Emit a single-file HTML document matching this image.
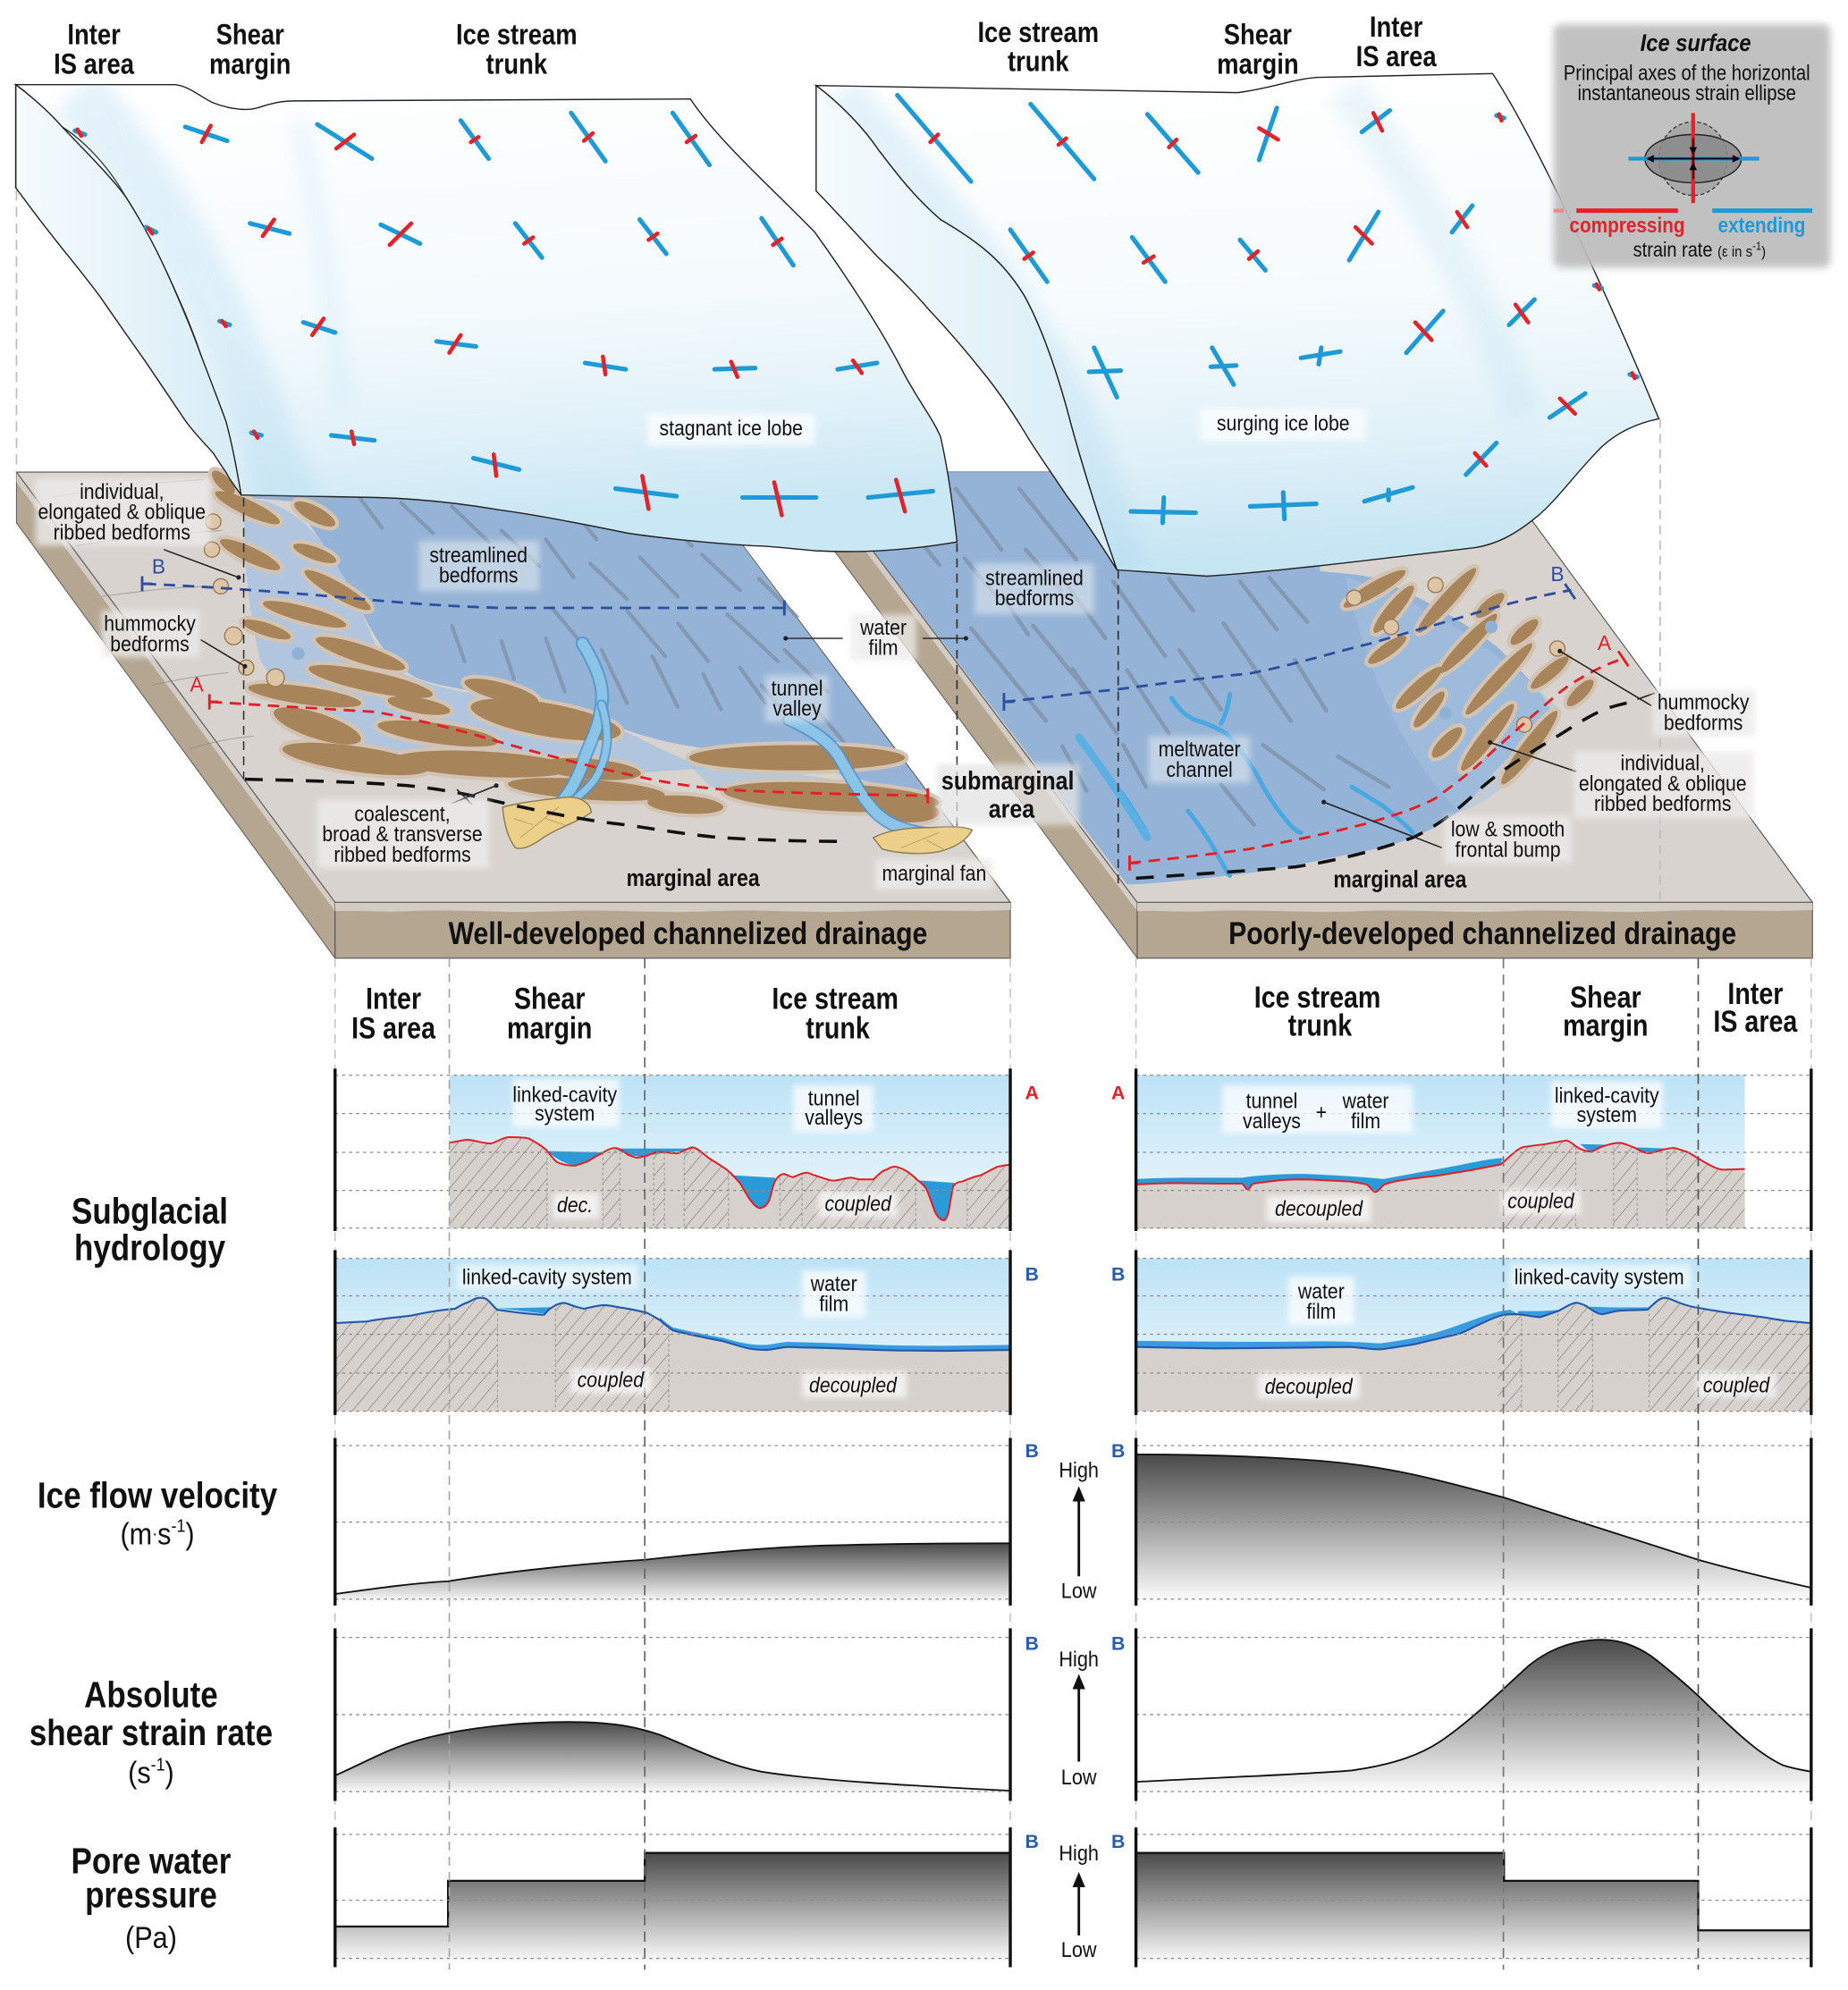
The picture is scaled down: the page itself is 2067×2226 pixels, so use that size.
<!DOCTYPE html>
<html><head><meta charset="utf-8">
<style>
html,body{margin:0;padding:0;background:#fff}
svg{display:block}
text{font-family:"Liberation Sans","DejaVu Sans",sans-serif;fill:#111;text-anchor:middle}
.h{font-size:23px;font-weight:bold}
.ch{font-size:24px;font-weight:bold}
.sl{font-size:29px;font-weight:bold}
.u{font-size:24px}
.l{font-size:17px}
.lb{font-size:19px;font-weight:bold}
.it{font-size:17px;font-style:italic}
.ab{font-size:15px;font-weight:bold}
.ft{font-size:25px;font-weight:bold}
</style></head><body>
<svg width="2067" height="2226" viewBox="0 0 1456 1568" xmlns="http://www.w3.org/2000/svg" xmlns:xlink="http://www.w3.org/1999/xlink">
<defs>
<filter id="gl" x="-30%" y="-40%" width="160%" height="180%"><feGaussianBlur stdDeviation="2.5"/></filter>
<filter id="bl" x="-50%" y="-50%" width="200%" height="200%"><feGaussianBlur stdDeviation="7"/></filter>
<filter id="bl3" x="-20%" y="-20%" width="140%" height="140%"><feGaussianBlur stdDeviation="3"/></filter>
<linearGradient id="gIceL" x1="0" y1="0" x2="0.15" y2="1"><stop offset="0" stop-color="#ffffff"/><stop offset="0.55" stop-color="#f4fafd"/><stop offset="0.8" stop-color="#e1f1f9"/><stop offset="1" stop-color="#c9e7f4"/></linearGradient>
<linearGradient id="gIceR" x1="0" y1="0" x2="0.1" y2="1"><stop offset="0" stop-color="#ffffff"/><stop offset="0.5" stop-color="#f6fbfd"/><stop offset="0.8" stop-color="#dff0f8"/><stop offset="1" stop-color="#c6e5f3"/></linearGradient>
<linearGradient id="gSide" x1="0" y1="0" x2="1" y2="0"><stop offset="0" stop-color="#f6fbfd"/><stop offset="1" stop-color="#d6ecf6"/></linearGradient>
<linearGradient id="sky" x1="0" y1="0" x2="0" y2="1"><stop offset="0" stop-color="#bde2f6"/><stop offset="1" stop-color="#f0f9fd"/></linearGradient>
<linearGradient id="fg" x1="0" y1="0" x2="0" y2="1"><stop offset="0" stop-color="#4a4a4a"/><stop offset="1" stop-color="#ffffff"/></linearGradient>
<pattern id="hat" width="9" height="9" patternUnits="userSpaceOnUse" patternTransform="rotate(40)"><line x1="0" y1="0" x2="0" y2="9" stroke="#7a7a7a" stroke-width="0.9"/></pattern>
<clipPath id="cIceL"><path d="M12.4,66.7 L138,66.7 C150,68 160,78 168,81 C178,85 190,87 198,86 C205,85 208,83 213,82 C220,80 226,79.5 232,79.5 L544,78 C565,110 610,150 642,183 C665,215 695,260 712,294 C725,318 735,330 741,344 C747,370 751,400 754,427 C720,433 680,436 643,434 C620,432 605,430 593,430 C560,428 520,424 494,420 C460,413 425,406 395,402 C360,396 330,393 297,392 L190,390 Z"/></clipPath>
<clipPath id="cIceR"><path d="M643,67.4 L975,73 C1000,70 1020,62 1038,61 L1176,58 C1210,110 1270,240 1307,330 C1287,334 1273,342 1262,352 C1242,372 1226,395 1211,407 C1194,421 1178,430 1158,432 C1090,440 1010,450 951,454 L880,449 Z"/></clipPath>
<path id="pA1" d="M354,900.5 C362,899 366,898 369,898 C376,899 381,901 387,901 C393,899 397,896 401,896 C407,896 412,896 416.5,897 C422,900 427,903 430.6,906.3 C434,910 436,914 439,915.7 C444,918 449,918.5 453,918.5 C458,917 461,916 464,914.6 C468,912 471,910 474.4,908.7 C478,906 481,904.5 485,904.5 C489,905 492,908 495,910 C498,911 500,912 502,912.2 C505,912 507,911 509,911 C513,909 516,907.5 520,907.5 C526,908 530,909 534,908.7 C539,907 543,904 546,904 C550,905 554,909 558,912.2 C564,916 569,919 572.5,921.6 C577,925 580,929 583,932.2 C586,937 588,941 590,944 C593,948 596,952 599,952 C602,951 604,950 606,946 C608,940 609,933 611,930 C613,927 615,925 618,925 C621,926 623,927.5 625,927.5 C629,926 632,924 635.5,924 C638,924 640,926 642.5,926.3 C648,928 652,930 656.6,930.3 C662,930 666,928 670.6,928 C673,928 675,929.3 677.6,929.3 C682,929.3 685,929.3 688,929.3 C692,926 695,922 698.6,921.6 C701,920 703,919 705.6,919.3 C709,920 712,921 716,924 C719,926 721,928 723,930 C726,932 728,934 730,937 C733,944 735,951 737,955.6 C739,959 741,961.5 744,961.5 C746,960 747,957 747.7,953 C749,946 750,939 751,934.5 C753,932 755,931 758,931 C763,929 767,927 772,926.3 C777,924 782,921 786,919.3 C790,918.5 793,918 796,917.6 L796,968 L354,968 Z"/>
<path id="pB1" d="M264,1042.5 C275,1042 282,1041.5 288.6,1041.3 C300,1039 312,1038 323.7,1036.7 C336,1034 348,1032 358.7,1031.2 C362,1029 366,1027 369,1026 C373,1024 375,1022.6 378,1022.6 C381,1022.6 383,1023 385,1025 C388,1028 390,1031 392,1032 C402,1033.5 412,1035 421.8,1035.5 C425,1036 427,1036 428.8,1035.9 C431,1033 433,1031 435.8,1029.6 C439,1027.5 442,1026.6 444.6,1026.6 C447,1027 449,1028 451.6,1028.9 C455,1030 458,1031 460.3,1031.2 C466,1030 471,1028.5 476,1028.4 C479,1028.5 482,1029 485,1029.6 C490,1030.5 494,1031 499,1032 C503,1033 506,1033.5 509.4,1034.3 C513,1036 516,1038 520,1040.2 C523,1043 527,1046 530.4,1048.4 C537,1050 545,1052 551.4,1053.1 C557,1054.5 563,1055.5 569,1056.6 C576,1058.5 583,1061 590,1062.5 C595,1063.5 600,1063.7 604,1063.7 C610,1063 616,1061.5 621.5,1061.3 C627,1061.5 633,1061.8 639,1061.8 C650,1062 662,1062.5 674,1063 C686,1063.5 698,1064 709,1064.1 C720,1064.3 732,1064.4 744,1064.4 C762,1064.2 780,1063.9 796,1063.7 L796,1112 L264,1112 Z"/>
<path id="pA2" d="M895.3,933.3 C905,932.8 914,932.4 922.6,932.2 C934,932.3 946,932.5 957.7,932.6 C965,932.6 972,932.6 978.7,932.6 C980.5,934 981.5,937.3 983,937.3 C984.5,937.3 985.5,933.5 987.5,932.6 C995,931.5 1003,930.5 1010,929.8 C1016,929.5 1022,929.3 1028,929.3 C1040,929.8 1051,930.3 1063,931 C1068,931.7 1073,932.3 1076.8,933.3 C1079.5,935 1081.5,939.2 1083.8,939.2 C1086,939.2 1088,935 1090.8,933.3 C1095,931.8 1100,930.5 1105,929.8 C1114,928.5 1124,927.3 1133,926.3 C1142,924.8 1151,923.2 1161,921.6 C1168,920.3 1175,918.9 1182,917.6 C1186,915 1189,911 1192.4,908.7 C1195,906.5 1197,905 1199.5,904 C1205,903 1211,902.3 1217,901.6 C1223,900.5 1229,899.5 1234.5,898.6 C1238,899.5 1241,903.5 1245,905.2 C1248,906.5 1251,907.5 1253.8,907.5 C1257,906.5 1260,903.8 1264.3,902.8 C1268,901.5 1272,900.5 1276.6,900.5 C1280,901 1283,902.5 1287,904 C1291,905.8 1295,908.7 1299.3,908.7 C1305,908 1312,904.5 1318.6,904.5 C1322,905 1325,906.5 1329,907.5 C1334,910 1338,913 1343,915.7 C1348,918.5 1352,921 1357,921.6 C1363,921.6 1369,921.2 1374.7,921.1 L1374.7,968 L895.3,968 Z"/>
<path id="pB2" d="M895.3,1061.3 C915,1061.7 937,1062.2 957.7,1062.5 C981,1062.3 1005,1062 1027.8,1061.8 C1040,1061.6 1051,1061.4 1062.8,1061.3 C1071,1061.6 1080,1063.2 1087.3,1063.2 C1097,1062 1106,1060.5 1115.4,1059 C1127,1056 1139,1053.5 1150.4,1050.7 C1157,1048 1162,1045 1168,1042.5 C1174,1039.5 1180,1037 1185.4,1035.9 C1189,1035.6 1193,1035.5 1196,1035.5 C1202,1036 1208,1037.8 1213.5,1037.8 C1218,1036.5 1223,1034.5 1227.5,1033.1 C1232,1031 1237,1027 1241.5,1026.5 C1244,1026.5 1246,1027.3 1248.5,1028.4 C1253,1031 1257,1035 1262.5,1035.5 C1267,1035 1271,1033 1276.6,1032.7 C1283,1032.4 1290,1032.2 1297.6,1032 C1302,1029 1306,1023 1311.6,1022.6 C1315,1022.7 1318,1024.5 1322,1026.1 C1328,1028.5 1334,1030 1339.6,1030.8 C1347,1032 1354,1033.3 1360.6,1034.3 C1371,1035.5 1382,1037 1392,1038.3 C1397,1039.2 1402,1040 1406,1040.6 C1413,1041.3 1420,1042 1427,1042.5 L1427,1112 L895.3,1112 Z"/>
<clipPath id="cA1"><use xlink:href="#pA1"/></clipPath>
<clipPath id="cB1"><use xlink:href="#pB1"/></clipPath>
<clipPath id="cA2"><use xlink:href="#pA2"/></clipPath>
<clipPath id="cB2"><use xlink:href="#pB2"/></clipPath>
<g id="bfL">
<ellipse cx="176" cy="380" rx="12" ry="5" transform="rotate(45 176 380)"/>
<ellipse cx="195" cy="400" rx="28" ry="6" transform="rotate(25 195 400)"/>
<ellipse cx="248" cy="405" rx="18" ry="6" transform="rotate(28 248 405)"/>
<ellipse cx="197" cy="437" rx="26" ry="6" transform="rotate(25 197 437)"/>
<ellipse cx="248" cy="436" rx="18" ry="5" transform="rotate(20 248 436)"/>
<ellipse cx="266" cy="465" rx="30" ry="6" transform="rotate(30 266 465)"/>
<ellipse cx="240" cy="484" rx="34" ry="6" transform="rotate(15 240 484)"/>
<ellipse cx="210" cy="496" rx="20" ry="5" transform="rotate(18 210 496)"/>
<ellipse cx="284" cy="515" rx="37" ry="7" transform="rotate(18 284 515)"/>
<ellipse cx="292" cy="537" rx="50" ry="8" transform="rotate(12 292 537)"/>
<ellipse cx="240" cy="548" rx="45" ry="7" transform="rotate(8 240 548)"/>
<ellipse cx="250" cy="572" rx="36" ry="10" transform="rotate(18 250 572)"/>
<ellipse cx="345" cy="578" rx="48" ry="8" transform="rotate(8 345 578)"/>
<ellipse cx="430" cy="567" rx="60" ry="13" transform="rotate(10 430 567)"/>
<ellipse cx="280" cy="598" rx="58" ry="10" transform="rotate(8 280 598)"/>
<ellipse cx="380" cy="602" rx="70" ry="10" transform="rotate(3 380 602)"/>
<ellipse cx="465" cy="606" rx="40" ry="8" transform="rotate(5 465 606)"/>
<ellipse cx="462" cy="622" rx="62" ry="8" transform="rotate(4 462 622)"/>
<ellipse cx="628" cy="597" rx="85" ry="10"/>
<ellipse cx="655" cy="628" rx="85" ry="11" transform="rotate(3 655 628)"/>
<ellipse cx="540" cy="634" rx="30" ry="7" transform="rotate(4 540 634)"/>
<ellipse cx="330" cy="556" rx="25" ry="6" transform="rotate(10 330 556)"/>
<ellipse cx="395" cy="545" rx="30" ry="7" transform="rotate(15 395 545)"/>
<ellipse cx="718" cy="640" rx="22" ry="8"/>
</g>
<g id="bfR">
<ellipse cx="1083" cy="464" rx="28" ry="5.5" transform="rotate(-30 1083 464)"/>
<ellipse cx="1098" cy="480" rx="24" ry="5.5" transform="rotate(-50 1098 480)"/>
<ellipse cx="1140" cy="473" rx="34" ry="5.5" transform="rotate(-48 1140 473)"/>
<ellipse cx="1174" cy="477" rx="14" ry="5" transform="rotate(-40 1174 477)"/>
<ellipse cx="1093" cy="512" rx="18" ry="5" transform="rotate(-35 1093 512)"/>
<ellipse cx="1157" cy="507" rx="32" ry="5.5" transform="rotate(-46 1157 507)"/>
<ellipse cx="1201" cy="498" rx="14" ry="5" transform="rotate(-42 1201 498)"/>
<ellipse cx="1118" cy="542" rx="24" ry="5.5" transform="rotate(-42 1118 542)"/>
<ellipse cx="1181" cy="535" rx="38" ry="5.5" transform="rotate(-47 1181 535)"/>
<ellipse cx="1221" cy="530" rx="19" ry="5" transform="rotate(-40 1221 530)"/>
<ellipse cx="1126" cy="559" rx="18" ry="5" transform="rotate(-50 1126 559)"/>
<ellipse cx="1245" cy="546" rx="14" ry="5" transform="rotate(-45 1245 546)"/>
<ellipse cx="1140" cy="585" rx="16" ry="5.5" transform="rotate(-45 1140 585)"/>
<ellipse cx="1172" cy="581" rx="33" ry="6" transform="rotate(-52 1172 581)"/>
<ellipse cx="1205" cy="589" rx="36" ry="6" transform="rotate(-53 1205 589)"/>
</g>
</defs>

<!-- ============ RIGHT SLAB ============ -->
<polygon points="641,372 896,711 896,755 641,412" fill="#b5a691" stroke="#666" stroke-width="0.8"/>
<polygon points="641,372 896,711 896,718 641,380" fill="#d3ccc4"/>
<rect x="896" y="711" width="532" height="44" fill="#b5a691" stroke="#555" stroke-width="0.8"/>
<path d="M896,711 L1428,711 L1428,717 C1390,719 1350,716 1310,718 C1270,720 1230,716 1190,718 C1150,720 1110,716 1070,718 C1030,720 990,716 950,718 C925,719 910,717 896,718 Z" fill="#d3ccc4"/>
<polygon points="641,372 1179,372 1428,711 896,711" fill="#d9d3cf" stroke="#555" stroke-width="0.8"/>
<path d="M641,372 L1040,372 L1040,450 C1060,452 1080,453 1090,458 C1130,475 1160,495 1180,510 C1200,530 1215,545 1222,560 C1218,572 1210,580 1205,582 C1190,595 1180,605 1175,611 C1165,622 1160,630 1153,636 C1140,648 1125,655 1113,660 C1095,667 1075,671 1058,674 C1030,680 1005,685 984,688 C950,692 915,696 888,697 Z" fill="#95b3d6"/>
<path d="M1060,455 C1120,470 1190,520 1230,560 C1210,600 1180,630 1150,640 C1110,600 1080,540 1060,455 Z" fill="#a9c3e0" opacity="0.5"/>
<g stroke="#7d90a6" stroke-width="3.2" stroke-linecap="round" opacity="0.75">
<path d="M753,385L789,433 M803,385L848,441 M808,433L836,465 M765,495L824,568 M814,493L864,554 M838,457L871,503 M845,527L880,578 M837,588L856,623 M877,458L918,517 M921,456L940,481 M977,458L1006,496 M888,528L921,578 M929,512L962,559 M964,491L1017,568 M995,587L1043,622 M1054,596L1094,620 M962,618L988,650 M885,587L903,620 M1000,455L1030,490 M760,440L785,470 M720,420L740,445 M790,470L810,500 M1020,520L1045,560"/>
</g>
<g fill="none" stroke="#4aa8e0" stroke-width="3.5" stroke-linecap="round">
<path d="M923,550 C930,560 935,566 947,569 C955,572 962,575 966,578 C975,588 984,600 990,610 C995,620 1002,632 1010,642 C1016,650 1022,656 1025,656"/>
<path d="M969,547 C968,556 965,565 962,570"/>
<path d="M936,639 C945,650 955,665 960,675 C964,682 967,688 969,690"/>
<path d="M873,611 C880,620 888,630 892,637 C897,645 900,650 903,655"/>
<path d="M1065,620 C1075,626 1085,632 1091,636 C1100,644 1108,650 1113,656"/>
<path d="M850,581 C865,600 885,630 904,660" stroke-width="6" stroke="#5ab0e2"/>
</g>
<use xlink:href="#bfR" fill="#d2c3b2" stroke="#d2c3b2" stroke-width="6"/>
<use xlink:href="#bfR" fill="#a8845b"/>
<g fill="#dcc6a6" stroke="#9a7b55" stroke-width="1">
<circle cx="1067" cy="471" r="6"/><circle cx="1131" cy="461" r="6"/><circle cx="1096" cy="494" r="6"/><circle cx="1227" cy="511" r="6"/><circle cx="1201" cy="571" r="6"/>
</g>
<circle cx="1175" cy="494" r="5" fill="#8fb1d4"/><circle cx="1139" cy="562" r="5" fill="#8fb1d4"/>
<!-- right dashed lines -->
<path d="M791,553 C830,549 850,546 877,543.6 C920,538 950,534 984,530.7 C1020,524 1050,514 1080,507 C1110,498 1140,490 1168,481.4 C1190,475 1215,469 1238,465" fill="none" stroke="#2d4f9e" stroke-width="2" stroke-dasharray="9 6"/>
<path d="M791,546 L791,560 M791,553 L799,553 M1233,460 L1241,472" stroke="#2d4f9e" stroke-width="2"/>
<path d="M890,680 C920,677 955,673 984,669 C1020,662 1050,656 1080,648 C1100,642 1118,636 1131,629 C1150,615 1163,605 1176,592 C1195,575 1212,560 1227,547 C1237,539 1247,533 1257,528 C1265,524 1272,521 1279,519" fill="none" stroke="#e31e25" stroke-width="2" stroke-dasharray="9 6"/>
<path d="M890,674 L890,686 M890,680 L897,680 M1275,513 L1283,525" stroke="#e31e25" stroke-width="2"/>
<path d="M895,692 C940,689 985,686 1021,683 C1055,678 1088,669 1113,660 C1135,650 1152,635 1168,620 C1188,603 1206,593 1224,582 C1240,572 1252,564 1264,559 C1272,556 1278,555 1285,553" fill="none" stroke="#111" stroke-width="2.5" stroke-dasharray="14 10"/>
<line x1="881" y1="449" x2="881" y2="700" stroke="#333" stroke-width="1.2" stroke-dasharray="7 5"/>
<line x1="1308" y1="330" x2="1308" y2="711" stroke="#bdbdbd" stroke-width="1.2" stroke-dasharray="7 5"/>
<g stroke="#222" stroke-width="1.1" fill="none">
<path d="M1229,513 L1301,556"/><path d="M1290,551 L1304,546"/>
<path d="M1174,585 L1242,608"/>
<path d="M1043,632 L1136,668"/>
</g>
<circle cx="1229" cy="513" r="1.8" fill="#222"/><circle cx="1174" cy="585" r="1.8" fill="#222"/><circle cx="1043" cy="632" r="1.8" fill="#222"/>

<!-- ============ RIGHT ICE ============ -->
<path d="M643,67.4 L975,73 C1000,70 1020,62 1038,61 L1176,58 C1210,110 1270,240 1307,330 C1287,334 1273,342 1262,352 C1242,372 1226,395 1211,407 C1194,421 1178,430 1158,432 C1090,440 1010,450 951,454 L880,449 C868,415 855,375 844,335 C835,300 822,260 807,233 C790,205 770,190 741,173 C720,155 705,135 692,118 C680,100 660,80 643,67.4 Z" fill="url(#gIceR)" stroke="#222" stroke-width="1"/>
<g clip-path="url(#cIceR)" opacity="0.3">
<path d="M660,75 C720,140 790,220 830,300 C860,360 870,410 885,450" stroke="#a9d6ee" stroke-width="40" fill="none" filter="url(#bl)"/>
<path d="M1060,70 C1110,140 1170,230 1200,330" stroke="#bfe0f1" stroke-width="30" fill="none" filter="url(#bl)"/>
</g>
<path d="M643,67.4 C660,80 680,100 692,118 C705,135 720,155 741,173 C770,190 790,205 807,233 C822,260 835,300 844,335 C855,375 868,415 880,449 C868,430 855,410 840,390 C828,372 818,358 810,345 C798,325 788,310 775,294 C760,275 745,258 731,243 C718,228 705,215 692,203 C678,188 660,168 643,150.5 Z" fill="url(#gSide)" stroke="#222" stroke-width="1"/>
<g stroke="#1e9ad6" stroke-width="3.6" stroke-linecap="round" fill="none">
<path d="M707,75L765,143 M812,82L862,141 M904,90L944,136 M1006,85L992,126 M1073,104L1095,87 M1179,91L1185,93 M796,181L825,222 M892,187L918,222 M977,189L997,213 M1063,205L1086,167 M1144,183L1160,162 M1256,225L1262,227 M862,274L880,313 M858,293L883,292 M955,274L972,303 M954,289L974,288 M1025,282L1056,277 M1041,274L1039,287 M1108,278L1137,245 M1189,256L1209,236 M1284,295L1290,297 M891,403L942,404 M917,392L916,412 M985,399L1037,397 M1011,388L1012,409 M1075,395L1113,384 M1094,386L1094,394 M1155,374L1179,349 M1221,329L1249,310"/>
</g>
<g stroke="#e3232b" stroke-width="3.2" stroke-linecap="round" fill="none">
<path d="M733,112L739,106 M834,114L840,109 M921,116L927,110 M992,101L1007,110 M1082,89L1089,103 M1181,90L1183,95 M807,204L814,199 M901,207L909,202 M984,204L991,198 M1068,179L1081,192 M1148,167L1156,179 M1258,224L1260,228 M1115,254L1128,268 M1194,240L1204,254 M1286,294L1288,298 M1162,357L1171,367 M1229,314L1241,326"/>
</g>
<rect x="946" y="322" width="130" height="25" fill="#fff" opacity="0.7" filter="url(#gl)"/>
<text class="l" transform="translate(1011 339) scale(.88 1)">surging ice lobe</text>

<!-- ============ LEFT SLAB ============ -->
<polygon points="13,372 264,711 264,755 13,412" fill="#b5a691" stroke="#666" stroke-width="0.8"/>
<polygon points="13,372 264,711 264,718 13,380" fill="#d3ccc4"/>
<rect x="264" y="711" width="532" height="44" fill="#b5a691" stroke="#555" stroke-width="0.8"/>
<path d="M264,711 L796,711 L796,717 C760,719 720,716 680,718 C640,720 600,716 560,718 C520,720 480,716 440,718 C400,720 360,716 320,718 C300,719 280,717 264,718 Z" fill="#d3ccc4"/>
<polygon points="13,372 542,372 796,711 264,711" fill="#d9d3cf" stroke="#555" stroke-width="0.8"/>
<path d="M192,380 L548,380 L733,628 C700,622 650,605 600,595 C550,590 510,585 470,565 C420,550 360,545 330,535 C300,520 290,490 275,462 C262,440 250,420 230,395 L192,392 Z" fill="#95b3d6"/>
<path d="M192,392 C230,395 250,420 262,440 C275,462 290,490 300,520 C320,535 350,545 400,550 C440,556 470,565 500,580 C520,590 540,600 560,605 L420,615 C380,610 330,600 290,590 C250,575 220,545 205,520 C195,480 192,440 192,392 Z" fill="#a9c3e0" opacity="0.85"/>
<path d="M540,600 C600,605 650,612 735,628 L740,640 C680,640 620,630 560,620 Z" fill="#a9c3e0" opacity="0.7"/>
<g stroke="#7d90a6" stroke-width="3" stroke-linecap="round" opacity="0.75">
<path d="M284,393L301,416 M316,396L341,420 M356,399L385,427 M395,418L425,446 M430,425L452,455 M465,444L494,472 M504,439L534,470 M553,437L583,465 M598,456L628,486 M435,479L455,503 M494,481L524,517 M534,491L558,521 M573,484L613,521 M618,512L652,545 M583,526L603,554 M395,505L405,535 M430,503L445,545 M356,493L366,521 M474,512L494,554 M514,517L534,557 M554,531L568,559 M600,540L625,570 M640,555L665,585 M450,400L470,425 M520,405L545,430"/>
</g>
<g stroke="#8a8a8a" stroke-width="0.7" fill="none" opacity="0.7">
<path d="M40,392 C80,385 120,380 160,378 M60,430 C100,424 140,420 175,418 M80,470 C110,466 140,462 170,462 M120,540 C140,535 160,532 180,530 M150,590 C165,585 180,582 200,580"/>
</g>
<use xlink:href="#bfL" fill="#d2c3b2" stroke="#d2c3b2" stroke-width="6"/>
<use xlink:href="#bfL" fill="#a8845b"/>
<g fill="#dcc6a6" stroke="#9a7b55" stroke-width="1">
<circle cx="168" cy="411" r="6"/><circle cx="167" cy="433" r="6"/><circle cx="174" cy="462" r="6"/><circle cx="184" cy="501" r="7"/><circle cx="194" cy="526" r="6"/><circle cx="217" cy="534" r="7"/>
</g>
<circle cx="235" cy="515" r="5" fill="#8fb1d4"/>
<g fill="none" stroke-linecap="round">
<path d="M459,507 C470,525 476,540 474,555 C472,575 462,590 458,605 C452,620 445,630 437,638" stroke="#4f95c8" stroke-width="11" opacity="0.8"/>
<path d="M459,507 C470,525 476,540 474,555 C472,575 462,590 458,605 C452,620 445,630 437,638" stroke="#8cc4e8" stroke-width="8"/>
<path d="M474,555 C482,580 478,600 468,615 C460,625 450,632 440,640" stroke="#4f95c8" stroke-width="8" opacity="0.8"/>
<path d="M474,555 C482,580 478,600 468,615 C460,625 450,632 440,640" stroke="#8cc4e8" stroke-width="5"/>
<path d="M622,567 C640,575 655,585 662,598 C672,615 680,630 690,640 C700,650 715,655 730,657" stroke="#4f95c8" stroke-width="11" opacity="0.8"/>
<path d="M622,567 C640,575 655,585 662,598 C672,615 680,630 690,640 C700,650 715,655 730,657" stroke="#8cc4e8" stroke-width="8"/>
</g>
<path d="M396,636 C410,632 430,630 448,628 C458,628 465,633 466,640 C455,648 440,652 428,660 C420,666 412,670 406,668 C400,660 397,648 396,636 Z" fill="#ecd08a" stroke="#8a7a50" stroke-width="1"/>
<path d="M688,660 C700,654 715,652 735,652 C748,651 760,651 766,654 C762,662 752,668 740,671 C725,674 705,672 695,669 Z" fill="#ecd08a" stroke="#8a7a50" stroke-width="1"/>
<g stroke="#b09a60" stroke-width="0.6" fill="none"><path d="M410,660 L440,636 M420,650 L405,645 M430,645 L445,650 M710,668 L740,656 M730,662 L745,670"/></g>
<path d="M114,460 C180,463 240,468 296,473 C330,476 360,478 395,479 C470,479 550,479 618,479" fill="none" stroke="#2d4f9e" stroke-width="2" stroke-dasharray="9 6"/>
<path d="M112,454 L112,466 M112,460 L120,460 M618,473 L618,485" stroke="#2d4f9e" stroke-width="2"/>
<path d="M166,553 C210,556 250,558 296,561 C330,567 365,576 395,585 C430,595 465,604 494,610 C520,616 545,620 568,622 C620,625 680,626 731,627" fill="none" stroke="#e31e25" stroke-width="2" stroke-dasharray="9 6"/>
<path d="M165,547 L165,559 M165,553 L172,553 M731,621 L731,633" stroke="#e31e25" stroke-width="2"/>
<path d="M193,614 C240,615 280,616 321,619 C340,621 360,624 376,628 C415,637 455,646 494,650 C520,654 545,658 568,660 C600,662 635,663 667,663" fill="none" stroke="#111" stroke-width="2.5" stroke-dasharray="14 10"/>
<line x1="192" y1="392" x2="192" y2="614" stroke="#333" stroke-width="1.1" stroke-dasharray="7 5"/>
<line x1="13" y1="150" x2="13" y2="372" stroke="#bdbdbd" stroke-width="1.2" stroke-dasharray="8 5"/>
<g stroke="#222" stroke-width="1.1" fill="none">
<path d="M129,433 L188,455"/><path d="M158,504 L193,525"/><path d="M356,633 L391,619"/><path d="M360,622 L372,634"/>
</g>
<circle cx="188" cy="455" r="1.8" fill="#222"/><circle cx="193" cy="525" r="1.8" fill="#222"/><circle cx="391" cy="619" r="1.8" fill="#222"/>

<!-- ============ LEFT ICE ============ -->
<path d="M12.4,66.7 L138,66.7 C150,68 160,78 168,81 C178,85 190,87 198,86 C205,85 208,83 213,82 C220,80 226,79.5 232,79.5 L544,78 C565,110 610,150 642,183 C665,215 695,260 712,294 C725,318 735,330 741,344 C747,370 751,400 754,427 C720,433 680,436 643,434 C620,432 605,430 593,430 C560,428 520,424 494,420 C460,413 425,406 395,402 C360,396 330,393 297,392 L190,390 C184,370 181,350 178,332 C170,310 163,295 158,279 C150,255 142,238 133,218 C122,195 110,172 99,155 C85,130 65,110 49,100 C35,85 20,72 12.4,66.7 Z" fill="url(#gIceL)" stroke="#222" stroke-width="1"/>
<g clip-path="url(#cIceL)" opacity="0.3">
<path d="M60,72 C120,140 170,230 200,320 C215,360 225,390 235,410" stroke="#a9d6ee" stroke-width="46" fill="none" filter="url(#bl)"/>
<path d="M235,95 C250,160 262,240 270,320" stroke="#c5e4f3" stroke-width="16" fill="none" filter="url(#bl)"/>
</g>
<path d="M12.4,66.7 C30,80 42,92 49,100 C70,122 88,140 99,155 C115,180 125,200 133,218 C145,245 152,262 158,279 C166,300 173,318 178,332 C183,350 187,372 190,390 C186,384 182,380 178,372 C173,365 170,360 168,357 C160,348 150,338 143,327 C133,312 122,296 114,284 C102,267 90,250 79,234 C65,215 52,200 39,183 C30,172 20,158 12.4,148 Z" fill="url(#gSide)" stroke="#222" stroke-width="1"/>
<line x1="12.4" y1="66.7" x2="12.4" y2="148" stroke="#222" stroke-width="1"/>
<g stroke="#1e9ad6" stroke-width="3.6" stroke-linecap="round" fill="none">
<path d="M59,103L67,106 M146,100L179,111 M250,98L293,125 M363,95L385,125 M450,89L477,127 M530,89L559,130 M115,179L123,183 M197,176L228,184 M300,177L331,192 M406,176L427,203 M504,173L525,200 M600,172L625,209 M173,253L181,256 M239,254L264,262 M344,269L375,273 M461,286L493,291 M563,291L595,290 M660,291L691,286 M198,341L206,343 M261,343L295,347 M373,361L409,370 M485,385L533,391 M585,392L643,392 M684,392L735,387"/>
</g>
<g stroke="#e3232b" stroke-width="3.2" stroke-linecap="round" fill="none">
<path d="M61,102L64,107 M159,112L166,99 M265,117L279,106 M371,112L377,108 M460,111L467,105 M541,112L548,107 M117,180L120,184 M207,186L216,173 M307,193L324,176 M413,192L420,187 M511,189L518,184 M609,193L616,188 M175,253L178,257 M246,264L255,251 M354,278L363,264 M475,281L477,295 M576,285L581,297 M672,284L679,294 M200,340L203,345 M277,340L279,350 M389,358L391,375 M506,375L511,401 M610,380L616,406 M706,378L713,403"/>
</g>
<rect x="510" y="326" width="132" height="25" fill="#fff" opacity="0.7" filter="url(#gl)"/>
<text class="l" transform="translate(576 343) scale(.88 1)">stagnant ice lobe</text>

<line x1="754" y1="428" x2="754" y2="652" stroke="#333" stroke-width="1.2" stroke-dasharray="7 5"/>

<!-- ============ BLOCK LABELS ============ -->
<g>
<rect x="330" y="426" width="95" height="40" fill="#dfe7f0" opacity="0.6" filter="url(#gl)"/>
<text class="l" transform="translate(377 443) scale(.88 1)">streamlined</text>
<text class="l" transform="translate(377 459) scale(.88 1)">bedforms</text>
<rect x="768" y="444" width="94" height="40" fill="#dfe7f0" opacity="0.6" filter="url(#gl)"/>
<text class="l" transform="translate(815 461) scale(.88 1)">streamlined</text>
<text class="l" transform="translate(815 477) scale(.88 1)">bedforms</text>
<line x1="619" y1="503" x2="664" y2="503" stroke="#222" stroke-width="1"/><line x1="727" y1="503" x2="761" y2="503" stroke="#222" stroke-width="1"/>
<circle cx="619" cy="503" r="1.8" fill="#222"/><circle cx="761" cy="503" r="1.8" fill="#222"/>
<rect x="670" y="484" width="52" height="37" fill="#ececec" opacity="0.75" filter="url(#gl)"/>
<text class="l" transform="translate(696 500) scale(.88 1)">water</text>
<text class="l" transform="translate(696 516) scale(.88 1)">film</text>
<rect x="603" y="532" width="50" height="37" fill="#dfe7f0" opacity="0.6" filter="url(#gl)"/>
<text class="l" transform="translate(628 548) scale(.88 1)">tunnel</text>
<text class="l" transform="translate(628 564) scale(.88 1)">valley</text>
<rect x="28" y="377" width="137" height="53" fill="#ecebea" opacity="0.8" filter="url(#gl)"/>
<text class="l" transform="translate(96 393) scale(.88 1)">individual,</text>
<text class="l" transform="translate(96 409) scale(.88 1)">elongated &amp; oblique</text>
<text class="l" transform="translate(96 425) scale(.88 1)">ribbed bedforms</text>
<rect x="80" y="481" width="77" height="37" fill="#ecebea" opacity="0.8" filter="url(#gl)"/>
<text class="l" transform="translate(118 497) scale(.88 1)">hummocky</text>
<text class="l" transform="translate(118 513) scale(.88 1)">bedforms</text>
<rect x="250" y="630" width="135" height="54" fill="#ecebea" opacity="0.85" filter="url(#gl)"/>
<text class="l" transform="translate(317 647) scale(.88 1)">coalescent,</text>
<text class="l" transform="translate(317 663) scale(.88 1)">broad &amp; transverse</text>
<text class="l" transform="translate(317 679) scale(.88 1)">ribbed bedforms</text>
<text class="lb" transform="translate(546 698) scale(.85 1)">marginal area</text>
<rect x="690" y="677" width="92" height="24" fill="#ecebea" opacity="0.85" filter="url(#gl)"/>
<text class="l" transform="translate(736 694) scale(.88 1)">marginal fan</text>
<rect x="738" y="602" width="112" height="48" fill="#e4e4e4" opacity="0.75" filter="url(#gl)"/>
<text class="lb" transform="translate(794 622) scale(.88 1)" style="font-size:20px">submarginal</text>
<text class="lb" transform="translate(797 644) scale(.88 1)" style="font-size:20px">area</text>
<rect x="905" y="580" width="80" height="37" fill="#dfe7f0" opacity="0.6" filter="url(#gl)"/>
<text class="l" transform="translate(945 596) scale(.88 1)">meltwater</text>
<text class="l" transform="translate(945 612) scale(.88 1)">channel</text>
<rect x="1302" y="543" width="81" height="37" fill="#ecebea" opacity="0.8" filter="url(#gl)"/>
<text class="l" transform="translate(1342 559) scale(.88 1)">hummocky</text>
<text class="l" transform="translate(1342 575) scale(.88 1)">bedforms</text>
<rect x="1240" y="592" width="142" height="53" fill="#ecebea" opacity="0.8" filter="url(#gl)"/>
<text class="l" transform="translate(1310 607) scale(.88 1)">individual,</text>
<text class="l" transform="translate(1310 623) scale(.88 1)">elongated &amp; oblique</text>
<text class="l" transform="translate(1310 639) scale(.88 1)">ribbed bedforms</text>
<rect x="1138" y="643" width="100" height="37" fill="#ecebea" opacity="0.8" filter="url(#gl)"/>
<text class="l" transform="translate(1188 659) scale(.88 1)">low &amp; smooth</text>
<text class="l" transform="translate(1188 675) scale(.88 1)">frontal bump</text>
<text class="lb" transform="translate(1103 699) scale(.85 1)">marginal area</text>
<text class="ab" x="125" y="452" style="fill:#2d4f9e;font-weight:normal;font-size:16px">B</text>
<text class="ab" x="155" y="545" style="fill:#e31e25;font-weight:normal;font-size:16px">A</text>
<text class="ab" x="1227" y="458" style="fill:#2d4f9e;font-weight:normal;font-size:16px">B</text>
<text class="ab" x="1264" y="512" style="fill:#e31e25;font-weight:normal;font-size:16px">A</text>
</g>
<text class="ft" transform="translate(542 744) scale(.85 1)">Well-developed channelized drainage</text>
<text class="ft" transform="translate(1168 744) scale(.85 1)">Poorly-developed channelized drainage</text>

<!-- ============ LEGEND ============ -->
<g>
<rect x="1224" y="19" width="218" height="192" rx="6" fill="#bdbdbd" opacity="0.93" filter="url(#bl3)"/>
<text transform="translate(1336 40) scale(.88 1)" style="font-size:19px;font-weight:bold;font-style:italic">Ice surface</text>
<text class="l" transform="translate(1329 63) scale(.84 1)">Principal axes of the horizontal</text>
<text class="l" transform="translate(1329 79) scale(.84 1)">instantaneous strain ellipse</text>
<ellipse cx="1334" cy="125" rx="27" ry="29" fill="#a8a8a8" stroke="#333" stroke-width="0.9" stroke-dasharray="3 2"/>
<ellipse cx="1334" cy="125" rx="38" ry="19" fill="#8a8a8a" fill-opacity="0.85" stroke="#222" stroke-width="1"/>
<line x1="1283" y1="125" x2="1386" y2="125" stroke="#1e9ad6" stroke-width="3"/>
<line x1="1334" y1="89" x2="1334" y2="160" stroke="#e3232b" stroke-width="3"/>
<path d="M1300,125 L1368,125 M1334,109 L1334,141" stroke="#000" stroke-width="1.3"/>
<path d="M1297,125 l6,-3 v6 Z M1371,125 l-6,-3 v6 Z M1334,122 l-3,-6 h6 Z M1334,128 l-3,6 h6 Z" fill="#000"/>
<line x1="1242" y1="166" x2="1322" y2="166" stroke="#e3232b" stroke-width="3.5"/>
<line x1="1349" y1="166" x2="1428" y2="166" stroke="#1e9ad6" stroke-width="3.5"/>
<path d="M1224,166 L1232,166" stroke="#e88" stroke-width="3"/>
<text transform="translate(1282 183) scale(.86 1)" style="font-size:17px;font-weight:bold;fill:#e3232b">compressing</text>
<text transform="translate(1388 183) scale(.86 1)" style="font-size:17px;font-weight:bold;fill:#1e9ad6">extending</text>
<text transform="translate(1339 202) scale(.88 1)" style="font-size:16px">strain rate <tspan style="font-size:12px">(ε in s</tspan><tspan style="font-size:9px" dy="-5">-1</tspan><tspan style="font-size:12px" dy="5">)</tspan></text>
</g>

<!-- ============ TOP HEADERS ============ -->
<g class="h">
<text class="h" transform="translate(74 35) scale(.84 1)">Inter</text><text class="h" transform="translate(74 58) scale(.84 1)">IS area</text>
<text class="h" transform="translate(197 35) scale(.84 1)">Shear</text><text class="h" transform="translate(197 58) scale(.84 1)">margin</text>
<text class="h" transform="translate(407 35) scale(.84 1)">Ice stream</text><text class="h" transform="translate(407 58) scale(.84 1)">trunk</text>
<text class="h" transform="translate(818 33) scale(.84 1)">Ice stream</text><text class="h" transform="translate(818 56) scale(.84 1)">trunk</text>
<text class="h" transform="translate(991 35) scale(.84 1)">Shear</text><text class="h" transform="translate(991 58) scale(.84 1)">margin</text>
<text class="h" transform="translate(1100 29) scale(.84 1)">Inter</text><text class="h" transform="translate(1100 52) scale(.84 1)">IS area</text>
</g>

<!-- ============ CHARTS ============ -->
<g stroke-width="1.1" fill="none">
<path d="M264,755 V1550 M796,755 V1550 M895,755 V1550 M1427,755 V1550" stroke="#c4c4c4" stroke-dasharray="7 5"/>
</g>
<text class="ch" transform="translate(310 795) scale(.84 1)">Inter</text><text class="ch" transform="translate(310 818) scale(.84 1)">IS area</text>
<text class="ch" transform="translate(433 795) scale(.84 1)">Shear</text><text class="ch" transform="translate(433 818) scale(.84 1)">margin</text>
<text class="ch" transform="translate(658 795) scale(.84 1)">Ice stream</text><text class="ch" transform="translate(660 818) scale(.84 1)">trunk</text>
<text class="ch" transform="translate(1038 794) scale(.84 1)">Ice stream</text><text class="ch" transform="translate(1040 816) scale(.84 1)">trunk</text>
<text class="ch" transform="translate(1265 794) scale(.84 1)">Shear</text><text class="ch" transform="translate(1265 816) scale(.84 1)">margin</text>
<text class="ch" transform="translate(1383 791) scale(.84 1)">Inter</text><text class="ch" transform="translate(1383 813) scale(.84 1)">IS area</text>

<!-- A left -->
<rect x="354" y="847" width="442" height="121" fill="url(#sky)"/>
<use xlink:href="#pA1" fill="#d6d1cd"/>
<g clip-path="url(#cA1)">
<rect x="354" y="880" width="77" height="90" fill="url(#hat)"/>
<rect x="475" y="880" width="13.5" height="90" fill="url(#hat)"/>
<rect x="515" y="880" width="8.5" height="90" fill="url(#hat)"/>
<rect x="539" y="880" width="35" height="90" fill="url(#hat)"/>
<rect x="614.5" y="880" width="17.5" height="90" fill="url(#hat)"/>
<rect x="634" y="880" width="87.5" height="90" fill="url(#hat)"/>
<rect x="762" y="880" width="34" height="90" fill="url(#hat)"/>
<path d="M431,880V970 M475,880V970 M488.5,880V970 M515,880V970 M523.5,880V970 M539,880V970 M574,880V970 M614.5,880V970 M632,880V970 M721.5,880V970 M762,880V970" stroke="#999" stroke-width="0.8" stroke-dasharray="2 2"/>
</g>
<path d="M431,907 C440,915 450,919 455,918 C463,916 470,911 475,908 Z" fill="#2a9ad8"/>
<path d="M485,905 C490,909 500,912 510,911 C520,908 535,908 546,905 Z" fill="#2a9ad8"/>
<path d="M576,926 C583,932 586,937 590,944 C593,948 596,952 599,952 C602,951 604,950 606,946 C608,940 609,933 611,928 Z" fill="#2a9ad8"/>
<path d="M722,930 C726,932 728,934 730,937 C733,944 735,951 737,955.6 C739,959 741,961.5 744,961.5 C746,960 747,957 747.7,953 C749,946 750,939 752,932 Z" fill="#2a9ad8"/>
<path d="M354,900.5 C362,899 366,898 369,898 C376,899 381,901 387,901 C393,899 397,896 401,896 C407,896 412,896 416.5,897 C422,900 427,903 430.6,906.3 C434,910 436,914 439,915.7 C444,918 449,918.5 453,918.5 C458,917 461,916 464,914.6 C468,912 471,910 474.4,908.7 C478,906 481,904.5 485,904.5 C489,905 492,908 495,910 C498,911 500,912 502,912.2 C505,912 507,911 509,911 C513,909 516,907.5 520,907.5 C526,908 530,909 534,908.7 C539,907 543,904 546,904 C550,905 554,909 558,912.2 C564,916 569,919 572.5,921.6 C577,925 580,929 583,932.2 C586,937 588,941 590,944 C593,948 596,952 599,952 C602,951 604,950 606,946 C608,940 609,933 611,930 C613,927 615,925 618,925 C621,926 623,927.5 625,927.5 C629,926 632,924 635.5,924 C638,924 640,926 642.5,926.3 C648,928 652,930 656.6,930.3 C662,930 666,928 670.6,928 C673,928 675,929.3 677.6,929.3 C682,929.3 685,929.3 688,929.3 C692,926 695,922 698.6,921.6 C701,920 703,919 705.6,919.3 C709,920 712,921 716,924 C719,926 721,928 723,930 C726,932 728,934 730,937 C733,944 735,951 737,955.6 C739,959 741,961.5 744,961.5 C746,960 747,957 747.7,953 C749,946 750,939 751,934.5 C753,932 755,931 758,931 C763,929 767,927 772,926.3 C777,924 782,921 786,919.3 C790,918.5 793,918 796,917.6" fill="none" stroke="#e31e25" stroke-width="1.4"/>
<!-- B left -->
<rect x="264" y="991.5" width="532" height="120.5" fill="url(#sky)"/>
<use xlink:href="#pB1" fill="#d6d1cd"/>
<g clip-path="url(#cB1)">
<rect x="264" y="1015" width="128" height="100" fill="url(#hat)"/>
<rect x="437.6" y="1015" width="89.4" height="100" fill="url(#hat)"/>
<path d="M392,1015V1112 M437.6,1015V1112 M527,1015V1112" stroke="#999" stroke-width="0.8" stroke-dasharray="2 2"/>
</g>
<path d="M392,1031 C405,1032 418,1034 428.8,1035 C431,1033 433,1031 436,1030 Z" fill="#2a9ad8"/>
<path d="M520,1038 C523,1041 527,1044 530.4,1046 C537,1047.5 545,1049.5 551.4,1050.5 C557,1052 563,1053 569,1054 C576,1056 583,1058 590,1059 C595,1059.8 600,1059.7 604,1059.7 C610,1059 616,1057.5 621.5,1057.3 C627,1057.5 633,1057.8 639,1057.8 C650,1058 662,1058.5 674,1059 C686,1059.5 698,1060 709,1060.1 C720,1060.3 732,1060.4 744,1060.4 C762,1060.2 780,1059.9 796,1059.7 L796,1063.7 C780,1063.9 762,1064.2 744,1064.4 C732,1064.4 720,1064.3 709,1064.1 C698,1064 686,1063.5 674,1063 C662,1062.5 650,1062 639,1061.8 C633,1061.8 627,1061.5 621.5,1061.3 C616,1061.5 610,1063 604,1063.7 C600,1063.7 595,1063.5 590,1062.5 C583,1061 576,1058.5 569,1056.6 C563,1055.5 557,1054.5 551.4,1053.1 C545,1052 537,1050 530.4,1048.4 C527,1046 523,1043 520,1040.2 Z" fill="#3a9be0"/>
<path d="M264,1042.5 C275,1042 282,1041.5 288.6,1041.3 C300,1039 312,1038 323.7,1036.7 C336,1034 348,1032 358.7,1031.2 C362,1029 366,1027 369,1026 C373,1024 375,1022.6 378,1022.6 C381,1022.6 383,1023 385,1025 C388,1028 390,1031 392,1032 C402,1033.5 412,1035 421.8,1035.5 C425,1036 427,1036 428.8,1035.9 C431,1033 433,1031 435.8,1029.6 C439,1027.5 442,1026.6 444.6,1026.6 C447,1027 449,1028 451.6,1028.9 C455,1030 458,1031 460.3,1031.2 C466,1030 471,1028.5 476,1028.4 C479,1028.5 482,1029 485,1029.6 C490,1030.5 494,1031 499,1032 C503,1033 506,1033.5 509.4,1034.3 C513,1036 516,1038 520,1040.2 C523,1043 527,1046 530.4,1048.4 C537,1050 545,1052 551.4,1053.1 C557,1054.5 563,1055.5 569,1056.6 C576,1058.5 583,1061 590,1062.5 C595,1063.5 600,1063.7 604,1063.7 C610,1063 616,1061.5 621.5,1061.3 C627,1061.5 633,1061.8 639,1061.8 C650,1062 662,1062.5 674,1063 C686,1063.5 698,1064 709,1064.1 C720,1064.3 732,1064.4 744,1064.4 C762,1064.2 780,1063.9 796,1063.7" fill="none" stroke="#2458ad" stroke-width="1.5"/>

<!-- A right -->
<rect x="895.3" y="847" width="479.4" height="121" fill="url(#sky)"/>
<use xlink:href="#pA2" fill="#d6d1cd"/>
<g clip-path="url(#cA2)">
<rect x="1184.7" y="880" width="56.8" height="90" fill="url(#hat)"/>
<rect x="1271.3" y="880" width="18.6" height="90" fill="url(#hat)"/>
<rect x="1313.3" y="880" width="61.4" height="90" fill="url(#hat)"/>
<path d="M1241.5,880V970 M1271.3,880V970 M1289.9,880V970 M1313.3,880V970" stroke="#999" stroke-width="0.8" stroke-dasharray="2 2"/>
</g>
<path d="M895.3,929 C920,927.5 950,928 978.7,928 C990,926 1010,925 1028,925 C1050,926 1070,927 1090,929 C1110,925 1130,922 1150,918 C1165,915 1175,913 1184,912.5 L1182,917.6 C1175,918.9 1168,920.3 1161,921.6 C1151,923.2 1142,924.8 1133,926.3 C1124,927.3 1114,928.5 1105,929.8 C1100,930.5 1095,931.8 1090.8,933.3 C1088,935 1086,939.2 1083.8,939.2 C1081.5,939.2 1079.5,935 1076.8,933.3 C1073,932.3 1068,931.7 1063,931 C1051,930.3 1040,929.8 1028,929.3 C1022,929.3 1016,929.5 1010,929.8 C1003,930.5 995,931.5 987.5,932.6 C985.5,933.5 984.5,937.3 983,937.3 C981.5,937.3 980.5,934 978.7,932.6 C972,932.6 965,932.6 957.7,932.6 C946,932.5 934,932.3 922.6,932.2 C914,932.4 905,932.8 895.3,933.3 Z" fill="#2a9ad8"/>
<path d="M1245,901.5 C1250,906 1252,907.5 1254,907.5 C1258,906.5 1262,903 1266,902 Z" fill="#2a9ad8"/>
<path d="M1287,904 C1292,907 1296,908.7 1299.3,908.7 C1305,908 1310,905.5 1314,905 Z" fill="#2a9ad8"/>
<path d="M895.3,933.3 C905,932.8 914,932.4 922.6,932.2 C934,932.3 946,932.5 957.7,932.6 C965,932.6 972,932.6 978.7,932.6 C980.5,934 981.5,937.3 983,937.3 C984.5,937.3 985.5,933.5 987.5,932.6 C995,931.5 1003,930.5 1010,929.8 C1016,929.5 1022,929.3 1028,929.3 C1040,929.8 1051,930.3 1063,931 C1068,931.7 1073,932.3 1076.8,933.3 C1079.5,935 1081.5,939.2 1083.8,939.2 C1086,939.2 1088,935 1090.8,933.3 C1095,931.8 1100,930.5 1105,929.8 C1114,928.5 1124,927.3 1133,926.3 C1142,924.8 1151,923.2 1161,921.6 C1168,920.3 1175,918.9 1182,917.6 C1186,915 1189,911 1192.4,908.7 C1195,906.5 1197,905 1199.5,904 C1205,903 1211,902.3 1217,901.6 C1223,900.5 1229,899.5 1234.5,898.6 C1238,899.5 1241,903.5 1245,905.2 C1248,906.5 1251,907.5 1253.8,907.5 C1257,906.5 1260,903.8 1264.3,902.8 C1268,901.5 1272,900.5 1276.6,900.5 C1280,901 1283,902.5 1287,904 C1291,905.8 1295,908.7 1299.3,908.7 C1305,908 1312,904.5 1318.6,904.5 C1322,905 1325,906.5 1329,907.5 C1334,910 1338,913 1343,915.7 C1348,918.5 1352,921 1357,921.6 C1363,921.6 1369,921.2 1374.7,921.1" fill="none" stroke="#e31e25" stroke-width="1.4"/>
<!-- B right -->
<rect x="895.3" y="991.5" width="531.7" height="120.5" fill="url(#sky)"/>
<use xlink:href="#pB2" fill="#d6d1cd"/>
<g clip-path="url(#cB2)">
<rect x="1180.2" y="1015" width="18.6" height="100" fill="url(#hat)"/>
<rect x="1227.5" y="1015" width="27.3" height="100" fill="url(#hat)"/>
<rect x="1299.3" y="1015" width="128" height="100" fill="url(#hat)"/>
<path d="M1198.8,1015V1112 M1227.5,1015V1112 M1254.8,1015V1112 M1299.3,1015V1112" stroke="#999" stroke-width="0.8" stroke-dasharray="2 2"/>
</g>
<path d="M895.3,1056.5 C935,1057 990,1057.5 1030,1057 C1060,1056.5 1075,1058 1087.3,1058.5 C1100,1057 1115,1054.5 1128,1051 C1145,1046 1160,1040 1172,1036 C1178,1034 1184,1032.5 1190,1032 L1196,1035.5 C1193,1035.5 1189,1035.6 1185.4,1035.9 C1180,1037 1174,1039.5 1168,1042.5 C1162,1045 1157,1048 1150.4,1050.7 C1139,1053.5 1127,1056 1115.4,1059 C1106,1060.5 1097,1062 1087.3,1063.2 C1080,1063.2 1071,1061.6 1062.8,1061.3 C1051,1061.4 1040,1061.6 1027.8,1061.8 C1005,1062 981,1062.3 957.7,1062.5 C937,1062.2 915,1061.7 895.3,1061.3 Z" fill="#3a9be0"/>
<path d="M1196,1033 C1205,1033 1215,1033.5 1228,1032 L1227.5,1033.1 C1223,1034.5 1218,1036.5 1213.5,1037.8 C1208,1037.8 1202,1036 1196,1035.5 Z" fill="#3a9be0"/>
<path d="M1248,1029.5 C1265,1030 1280,1030.5 1298,1030 L1297.6,1032 C1290,1032.2 1283,1032.4 1276.6,1032.7 C1271,1033 1267,1035 1262.5,1035.5 C1257,1035 1253,1031 1248.5,1028.4 Z" fill="#3a9be0"/>
<path d="M895.3,1061.3 C915,1061.7 937,1062.2 957.7,1062.5 C981,1062.3 1005,1062 1027.8,1061.8 C1040,1061.6 1051,1061.4 1062.8,1061.3 C1071,1061.6 1080,1063.2 1087.3,1063.2 C1097,1062 1106,1060.5 1115.4,1059 C1127,1056 1139,1053.5 1150.4,1050.7 C1157,1048 1162,1045 1168,1042.5 C1174,1039.5 1180,1037 1185.4,1035.9 C1189,1035.6 1193,1035.5 1196,1035.5 C1202,1036 1208,1037.8 1213.5,1037.8 C1218,1036.5 1223,1034.5 1227.5,1033.1 C1232,1031 1237,1027 1241.5,1026.5 C1244,1026.5 1246,1027.3 1248.5,1028.4 C1253,1031 1257,1035 1262.5,1035.5 C1267,1035 1271,1033 1276.6,1032.7 C1283,1032.4 1290,1032.2 1297.6,1032 C1302,1029 1306,1023 1311.6,1022.6 C1315,1022.7 1318,1024.5 1322,1026.1 C1328,1028.5 1334,1030 1339.6,1030.8 C1347,1032 1354,1033.3 1360.6,1034.3 C1371,1035.5 1382,1037 1392,1038.3 C1397,1039.2 1402,1040 1406,1040.6 C1413,1041.3 1420,1042 1427,1042.5" fill="none" stroke="#2458ad" stroke-width="1.5"/>

<!-- velocity -->
<path d="M264,1256 C300,1251 330,1247 353,1246 C400,1238 460,1232 508,1229 C570,1222 620,1218 666,1217.4 C720,1216 760,1216 796,1216 L796,1263 L264,1263 Z" fill="url(#fg)"/>
<path d="M264,1256 C300,1251 330,1247 353,1246 C400,1238 460,1232 508,1229 C570,1222 620,1218 666,1217.4 C720,1216 760,1216 796,1216" fill="none" stroke="#111" stroke-width="1.3"/>
<path d="M895,1146 C950,1146 1000,1148 1040,1151 C1100,1156 1140,1168 1185,1180 C1230,1194 1290,1214 1338,1229 C1370,1238 1400,1245 1427,1251 L1427,1263 L895,1263 Z" fill="url(#fg)"/>
<path d="M895,1146 C950,1146 1000,1148 1040,1151 C1100,1156 1140,1168 1185,1180 C1230,1194 1290,1214 1338,1229 C1370,1238 1400,1245 1427,1251" fill="none" stroke="#111" stroke-width="1.3"/>
<!-- shear -->
<path d="M264,1399 C285,1390 305,1378 330,1371 C370,1360 420,1356 460,1357 C490,1358 505,1362 520,1367 C545,1377 570,1390 600,1396 C650,1404 740,1408 796,1411 L796,1414 L264,1414 Z" fill="url(#fg)"/>
<path d="M264,1399 C285,1390 305,1378 330,1371 C370,1360 420,1356 460,1357 C490,1358 505,1362 520,1367 C545,1377 570,1390 600,1396 C650,1404 740,1408 796,1411" fill="none" stroke="#111" stroke-width="1.3"/>
<path d="M895,1404 C950,1401 1030,1398 1065,1395 C1100,1390 1120,1382 1135,1372 C1160,1355 1185,1330 1205,1312 C1225,1296 1245,1292 1262,1292 C1280,1292 1295,1300 1305,1308 C1320,1320 1335,1333 1345,1343 C1365,1362 1385,1382 1405,1391 C1415,1394 1422,1395 1427,1396 L1427,1414 L895,1414 Z" fill="url(#fg)"/>
<path d="M895,1404 C950,1401 1030,1398 1065,1395 C1100,1390 1120,1382 1135,1372 C1160,1355 1185,1330 1205,1312 C1225,1296 1245,1292 1262,1292 C1280,1292 1295,1300 1305,1308 C1320,1320 1335,1333 1345,1343 C1365,1362 1385,1382 1405,1391 C1415,1394 1422,1395 1427,1396" fill="none" stroke="#111" stroke-width="1.3"/>
<!-- pore -->
<path d="M264,1518 L353,1518 L353,1482 L508,1482 L508,1460 L796,1460 L796,1548 L264,1548 Z" fill="url(#fg)"/>
<path d="M264,1518 L353,1518 L353,1482 L508,1482 L508,1460 L796,1460" fill="none" stroke="#111" stroke-width="1.6"/>
<path d="M895,1460 L1185,1460 L1185,1482 L1338,1482 L1338,1521 L1427,1521 L1427,1548 L895,1548 Z" fill="url(#fg)"/>
<path d="M895,1460 L1185,1460 L1185,1482 L1338,1482 L1338,1521 L1427,1521" fill="none" stroke="#111" stroke-width="1.6"/>

<!-- gridlines -->
<g stroke="#8a8a8a" stroke-width="0.9" stroke-dasharray="2.5 3">
<path d="M264,847.2H796 M264,877.4H796 M264,908H796 M264,938H796 M264,967.7H796 M895,847.2H1427 M895,877.4H1427 M895,908H1427 M895,938H1427 M895,967.7H1427"/>
<path d="M264,991.5H796 M264,1021H796 M264,1051.3H796 M264,1081.9H796 M264,1112H796 M895,991.5H1427 M895,1021H1427 M895,1051.3H1427 M895,1081.9H1427 M895,1112H1427"/>
<path d="M264,1139H796 M264,1199.3H796 M264,1260H796 M895,1139H1427 M895,1199.3H1427 M895,1260H1427"/>
<path d="M264,1290.2H796 M264,1351H796 M264,1411.6H796 M895,1290.2H1427 M895,1351H1427 M895,1411.6H1427"/>
<path d="M264,1445.4H796 M264,1497.3H796 M264,1543.1H796 M895,1445.4H1427 M895,1497.3H1427 M895,1543.1H1427"/>
</g>
<g fill="none" stroke-width="1.2">
<path d="M354,755V1552" stroke="#a8a8a8" stroke-dasharray="7 5"/>
<path d="M508,755V1552" stroke="#666" stroke-dasharray="8 5"/>
<path d="M1184.5,755V1552" stroke="#777" stroke-dasharray="8 5"/>
<path d="M1338,755V1552" stroke="#555" stroke-dasharray="8 5"/>
</g>
<g stroke="#111" stroke-width="2.4">
<path d="M264,842V970 M796,842V970 M895,842V970 M1427,842V970"/>
<path d="M264,985V1115 M796,985V1115 M895,985V1115 M1427,985V1115"/>
<path d="M264,1133V1265 M796,1133V1265 M895,1133V1265 M1427,1133V1265"/>
<path d="M264,1283V1419 M796,1283V1419 M895,1283V1419 M1427,1283V1419"/>
<path d="M264,1440V1550 M796,1440V1550 M895,1440V1550 M1427,1440V1550"/>
</g>
<!-- chart labels -->
<rect x="404" y="850" width="84" height="38" fill="#fff" opacity="0.75" filter="url(#gl)"/>
<text class="l" transform="translate(445 868) scale(.88 1)">linked-cavity</text>
<text class="l" transform="translate(445 883) scale(.88 1)">system</text>
<rect x="625" y="855" width="63" height="37" fill="#fff" opacity="0.75" filter="url(#gl)"/>
<text class="l" transform="translate(657 871) scale(.88 1)">tunnel</text>
<text class="l" transform="translate(657 886) scale(.88 1)">valleys</text>
<rect x="436" y="940" width="36" height="20" fill="#fff" opacity="0.7" filter="url(#gl)"/>
<text class="it" transform="translate(453 955) scale(.88 1)">dec.</text>
<rect x="645" y="939" width="62" height="20" fill="#fff" opacity="0.7" filter="url(#gl)"/>
<text class="it" transform="translate(676 954) scale(.88 1)">coupled</text>
<rect x="360" y="996" width="142" height="20" fill="#fff" opacity="0.6" filter="url(#gl)"/>
<text class="l" transform="translate(431 1012) scale(.88 1)">linked-cavity system</text>
<rect x="632" y="1001" width="50" height="37" fill="#fff" opacity="0.75" filter="url(#gl)"/>
<text class="l" transform="translate(657 1017) scale(.88 1)">water</text>
<text class="l" transform="translate(657 1033) scale(.88 1)">film</text>
<rect x="450" y="1078" width="63" height="20" fill="#fff" opacity="0.7" filter="url(#gl)"/>
<text class="it" transform="translate(481 1093) scale(.88 1)">coupled</text>
<rect x="632" y="1081" width="82" height="20" fill="#fff" opacity="0.7" filter="url(#gl)"/>
<text class="it" transform="translate(672 1097) scale(.88 1)">decoupled</text>

<rect x="963" y="855" width="150" height="38" fill="#fff" opacity="0.75" filter="url(#gl)"/>
<text class="l" transform="translate(1002 873) scale(.88 1)">tunnel</text>
<text class="l" transform="translate(1002 889) scale(.88 1)">valleys</text>
<text class="l" transform="translate(1041 882) scale(.88 1)">+</text>
<text class="l" transform="translate(1076 873) scale(.88 1)">water</text>
<text class="l" transform="translate(1076 889) scale(.88 1)">film</text>
<rect x="1222" y="852" width="88" height="37" fill="#fff" opacity="0.75" filter="url(#gl)"/>
<text class="l" transform="translate(1266 869) scale(.88 1)">linked-cavity</text>
<text class="l" transform="translate(1266 884) scale(.88 1)">system</text>
<rect x="998" y="942" width="82" height="21" fill="#fff" opacity="0.7" filter="url(#gl)"/>
<text class="it" transform="translate(1039 958) scale(.88 1)">decoupled</text>
<rect x="1183" y="937" width="62" height="20" fill="#fff" opacity="0.7" filter="url(#gl)"/>
<text class="it" transform="translate(1214 952) scale(.88 1)">coupled</text>
<rect x="1015" y="1006" width="52" height="38" fill="#fff" opacity="0.75" filter="url(#gl)"/>
<text class="l" transform="translate(1041 1023) scale(.88 1)">water</text>
<text class="l" transform="translate(1041 1039) scale(.88 1)">film</text>
<rect x="1190" y="996" width="142" height="20" fill="#fff" opacity="0.6" filter="url(#gl)"/>
<text class="l" transform="translate(1260 1012) scale(.88 1)">linked-cavity system</text>
<rect x="991" y="1082" width="80" height="20" fill="#fff" opacity="0.7" filter="url(#gl)"/>
<text class="it" transform="translate(1031 1098) scale(.88 1)">decoupled</text>
<rect x="1337" y="1081" width="62" height="20" fill="#fff" opacity="0.7" filter="url(#gl)"/>
<text class="it" transform="translate(1368 1097) scale(.88 1)">coupled</text>

<g class="ab">
<text class="ab" x="813" y="866" style="fill:#e31e25">A</text><text class="ab" x="881" y="866" style="fill:#e31e25">A</text>
<text class="ab" x="813" y="1009" style="fill:#2b5cab">B</text><text class="ab" x="881" y="1009" style="fill:#2b5cab">B</text>
<text class="ab" x="813" y="1148" style="fill:#2b5cab">B</text><text class="ab" x="881" y="1148" style="fill:#2b5cab">B</text>
<text class="ab" x="813" y="1300" style="fill:#2b5cab">B</text><text class="ab" x="881" y="1300" style="fill:#2b5cab">B</text>
<text class="ab" x="813" y="1456" style="fill:#2b5cab">B</text><text class="ab" x="881" y="1456" style="fill:#2b5cab">B</text>
</g>
<g>
<text class="l" transform="translate(850 1164) scale(.9 1)">High</text>
<line x1="850" y1="1242" x2="850" y2="1180" stroke="#111" stroke-width="2"/><path d="M850,1171 l-5,12 h10 Z" fill="#111"/>
<text class="l" transform="translate(850 1259) scale(.9 1)">Low</text>
<text class="l" transform="translate(850 1313) scale(.9 1)">High</text>
<line x1="850" y1="1388" x2="850" y2="1328" stroke="#111" stroke-width="2"/><path d="M850,1319 l-5,12 h10 Z" fill="#111"/>
<text class="l" transform="translate(850 1406) scale(.9 1)">Low</text>
<text class="l" transform="translate(850 1466) scale(.9 1)">High</text>
<line x1="850" y1="1525" x2="850" y2="1484" stroke="#111" stroke-width="2"/><path d="M850,1475 l-5,12 h10 Z" fill="#111"/>
<text class="l" transform="translate(850 1542) scale(.9 1)">Low</text>
</g>
<text class="sl" transform="translate(118 964) scale(.85 1)">Subglacial</text>
<text class="sl" transform="translate(118 993) scale(.85 1)">hydrology</text>
<text class="sl" transform="translate(124 1188) scale(.85 1)">Ice flow velocity</text>
<text class="u" transform="translate(124 1217) scale(.9 1)">(m<tspan style="font-size:14px" dy="-4">·</tspan><tspan dy="4">s</tspan><tspan style="font-size:14px" dy="-10">-1</tspan><tspan dy="10">)</tspan></text>
<text class="sl" transform="translate(119 1345) scale(.85 1)">Absolute</text>
<text class="sl" transform="translate(119 1375) scale(.85 1)">shear strain rate</text>
<text class="u" transform="translate(119 1405) scale(.9 1)">(s<tspan style="font-size:14px" dy="-10">-1</tspan><tspan dy="10">)</tspan></text>
<text class="sl" transform="translate(119 1476) scale(.85 1)">Pore water</text>
<text class="sl" transform="translate(119 1503) scale(.85 1)">pressure</text>
<text class="u" transform="translate(119 1535) scale(.9 1)">(Pa)</text>
</svg>
</body></html>
